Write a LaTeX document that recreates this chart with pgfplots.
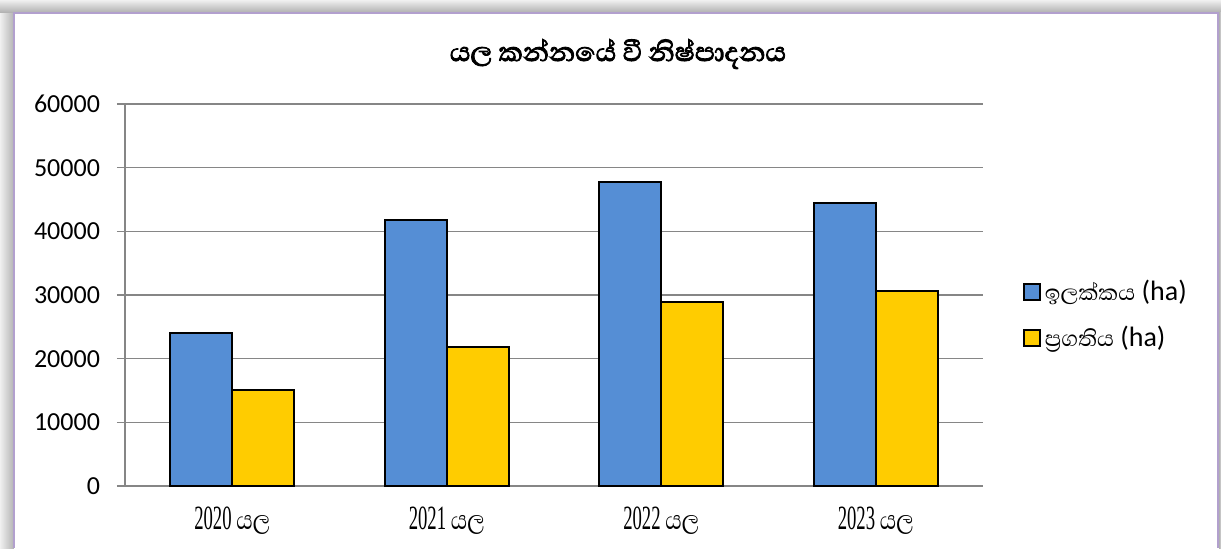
\documentclass[border=0pt]{standalone}
\usepackage{fontspec}
\setmainfont{Carlito}
\newfontfamily\sinfont[Script=Sinhala]{Abhaya Libre}
\newfontfamily\titlefont[Script=Sinhala, FakeBold=2.5]{Abhaya Libre}
\newfontfamily\catfont[FakeStretch=0.55]{Liberation Serif}
\newfontfamily\catsin[Script=Sinhala,FakeStretch=0.8]{Abhaya Libre}
\usepackage{pgfplots}
\pgfplotsset{compat=1.18}

\definecolor{barblue}{RGB}{85,142,213}
\definecolor{baryellow}{RGB}{255,204,0}
\definecolor{gridgray}{RGB}{134,134,134}
\definecolor{frameline}{RGB}{178,160,206}

\begin{document}
\begin{tikzpicture}
\begin{axis}[
    at={(0,0)}, anchor=south west,
    scale only axis,
    width=429pt, height=191pt,
    ybar=0pt, bar width=31pt,
    xmin=-0.5, xmax=3.5,
    ymin=0, ymax=60000,
    xtick=data,
    xticklabels={{\catfont 2020 \catsin යල},{\catfont 2021 \catsin යල},{\catfont 2022 \catsin යල},{\catfont 2023 \catsin යල}},
    ytick={0,10000,...,60000},
    scaled y ticks=false,
    /pgf/number format/assume math mode=true,
    yticklabel={\pgfmathprintnumber[fixed,1000 sep={}]{\tick}},
    axis lines=left,
    axis line style={-, draw=gridgray, line width=0.75pt},
    ymajorgrids, grid style={draw=gridgray, line width=0.75pt},
    tick align=outside, major tick length=4pt,
    ytick style={draw=gridgray, line width=0.75pt},
    xtick style={draw=none},
    yticklabel style={font=\fontsize{13}{15}\selectfont, xshift=-5pt},
    xticklabel style={font=\fontsize{17}{19}\selectfont, yshift=-3pt},
    legend style={at={(1.046,0.448)}, anchor=west, draw=none, fill=none,
        font=\fontsize{14}{16}\selectfont, row sep=7pt, inner sep=0pt},
    legend cell align=left,
    legend image code/.code={\draw[#1, draw=black, line width=1pt] (0pt,-4pt) rectangle (8pt,4pt);},
]
\addplot[fill=barblue, draw=black, line width=1pt] coordinates {(0,24000) (1,41800) (2,47800) (3,44400)};
\addplot[fill=baryellow, draw=black, line width=1pt] coordinates {(0,15100) (1,21900) (2,28900) (3,30600)};
\legend{{\sinfont ඉලක්කය} (ha), {\sinfont ප්^^^^200dරගතිය} (ha)}
\end{axis}
\begin{scope}[x=0.5pt, y=0.5pt, shift={(-62.5pt,-31pt)}]
  % shadow frame around the chart area
  \shade[left color=gray!12, right color=gray!60] (0,0) rectangle (14,548);
  \shade[top color=gray!12, bottom color=gray!60] (0,536) rectangle (1221,548);
  \shade[left color=gray!60, right color=gray!30] (1219,0) rectangle (1221,536);
  \draw[frameline, line width=1pt] (14.5,0) -- (14.5,535.5) -- (1218,535.5) -- (1218,0);
  \node[font=\titlefont\fontsize{17}{20}\selectfont] at (618,494) {යල කන්නයේ වී නිෂ්පාදනය};
  \pgfresetboundingbox
  \path[use as bounding box] (0,0) rectangle (1221,548);
\end{scope}
\end{tikzpicture}
\end{document}
